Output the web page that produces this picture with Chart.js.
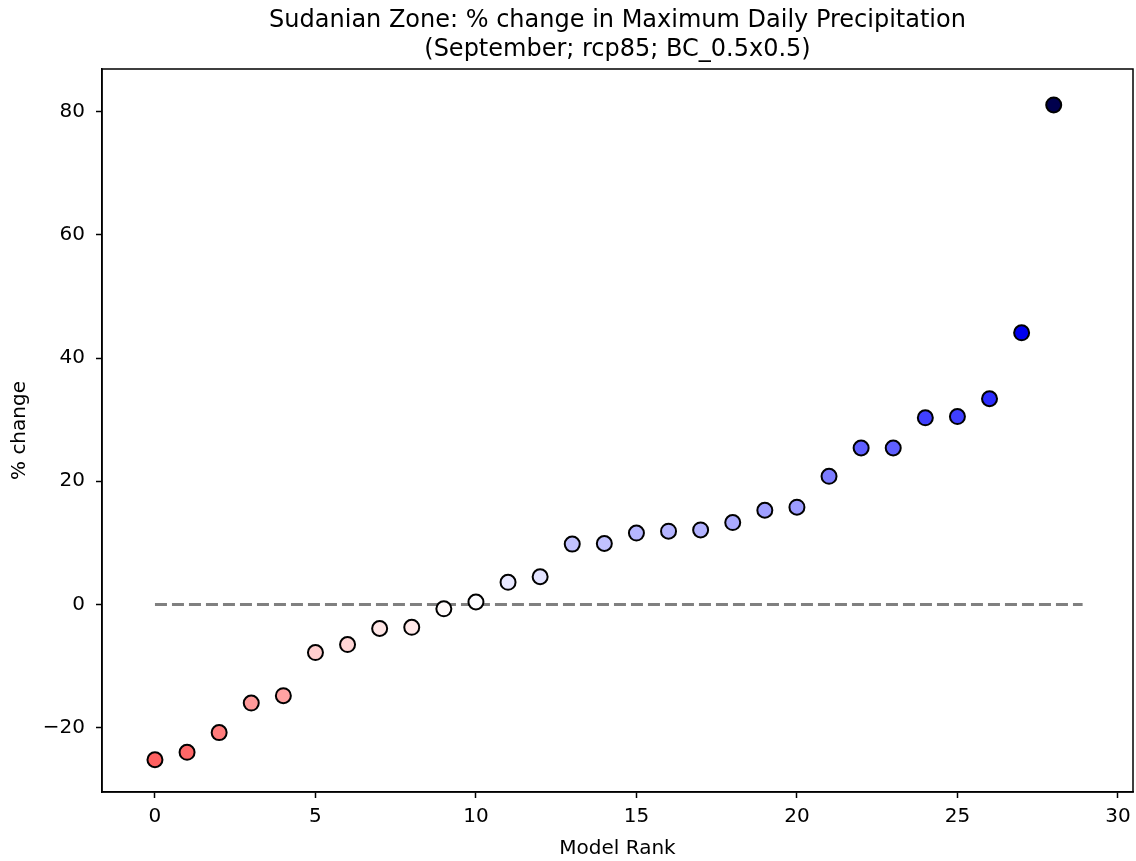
<!DOCTYPE html>
<html>
<head>
<meta charset="utf-8">
<script src="https://cdn.jsdelivr.net/npm/chart.js@4/dist/chart.umd.min.js"></script>
<style>
  body { margin: 0; background: #fff; }
</style>
</head>
<body>
<canvas id="chart" width="1136" height="861"></canvas>
<script>
'use strict';

// model rank (x) and % change (y)
const modelRank = [0, 1, 2, 3, 4, 5, 6, 7, 8, 9, 10, 11, 12, 13, 14, 15, 16, 17, 18, 19, 20, 21, 22, 23, 24, 25, 26, 27, 28];
const pctChange = [-25.2, -24.0, -20.8, -16.0, -14.8, -7.8, -6.5, -3.9, -3.7, -0.7, 0.4, 3.6, 4.5,
  9.8, 9.9, 11.6, 11.9, 12.1, 13.3, 15.3, 15.8, 20.8, 25.4, 25.4, 30.3, 30.5, 33.4, 44.1, 81.1];
const zeroLineX = [0, 28.9];
const titleLines = ['Sudanian Zone: % change in Maximum Daily Precipitation', '(September; rcp85; BC_0.5x0.5)'];

// seismic_r colour map, centred on 0
function seismicR(v, vmax) {
  let t = 0.5 - v / (2 * vmax); // seismic position
  t = Math.max(0, Math.min(1, t));
  let r, g, b;
  if (t < 0.25) { const s = t / 0.25; r = 0; g = 0; b = 0.3 + 0.7 * s; }
  else if (t < 0.5) { const s = (t - 0.25) / 0.25; r = s; g = s; b = 1; }
  else if (t < 0.75) { const s = (t - 0.5) / 0.25; r = 1; g = 1 - s; b = 1 - s; }
  else { const s = (t - 0.75) / 0.25; r = 1 - 0.5 * s; g = 0; b = 0; }
  return 'rgb(' + Math.round(r * 255) + ',' + Math.round(g * 255) + ',' + Math.round(b * 255) + ')';
}

const vmax = Math.max(...pctChange.map(Math.abs));
const pointColors = pctChange.map(v => seismicR(v, vmax));

const points = modelRank.map((r, i) => ({ x: r, y: pctChange[i] }));

const framePlugin = {
  id: 'frame',
  afterDraw(chart) {
    const { ctx, chartArea: a } = chart;
    ctx.save();
    ctx.strokeStyle = '#000';
    ctx.lineWidth = 1.5;
    ctx.strokeRect(a.left, a.top, a.right - a.left, a.bottom - a.top);
    ctx.restore();
  }
};

const font = { family: 'DejaVu Sans', size: 20 };

const config = {
  type: 'scatter',
  data: {
    datasets: [
      {
        type: 'line',
        data: zeroLineX.map(x => ({ x: x, y: 0 })),
        borderColor: 'rgb(128,128,128)',
        borderWidth: 3,
        borderDash: [12, 5],
        pointRadius: 0,
        fill: false,
        order: 2
      },
      {
        data: points,
        backgroundColor: pointColors,
        borderColor: '#000',
        borderWidth: 2,
        pointRadius: 7.5,
        pointHoverRadius: 7.5,
        order: 1
      }
    ]
  },
  options: {
    responsive: false,
    animation: false,
    devicePixelRatio: 1,
    layout: { autoPadding: false, padding: { left: 0, right: 3, top: 0, bottom: 0 } },
    plugins: {
      legend: { display: false },
      tooltip: { enabled: false },
      title: {
        display: true,
        fullSize: false,
        text: titleLines,
        color: '#000',
        font: { family: 'DejaVu Sans', size: 24, weight: 'normal', lineHeight: 1.2 },
        padding: { top: 6.5, bottom: 4.9 }
      }
    },
    scales: {
      x: {
        type: 'linear',
        min: -1.65,
        max: 30.47,
        afterFit(scale) { scale.height = 69; scale.paddingLeft = 0; scale.paddingRight = 0; },
        grid: { drawOnChartArea: false, drawTicks: true, tickLength: 6, color: '#000', tickWidth: 1.5 },
        border: { display: true, color: '#000', width: 1.5 },
        ticks: { stepSize: 5, includeBounds: false, color: '#000', font: font, padding: 7, maxRotation: 0 },
        title: { display: true, text: 'Model Rank', color: '#000', font: font, padding: { top: 0, bottom: 0 } }
      },
      y: {
        type: 'linear',
        min: -30.44,
        max: 86.93,
        afterFit(scale) { scale.width = 102; scale.paddingTop = 0; scale.paddingBottom = 0; },
        grid: { drawOnChartArea: false, drawTicks: true, tickLength: 6, color: '#000', tickWidth: 1.5 },
        border: { display: true, color: '#000', width: 1.5 },
        ticks: {
          stepSize: 20, includeBounds: false, color: '#000', font: font, padding: 11,
          callback: v => (v < 0 ? '\u2212' + Math.abs(v) : String(v))
        },
        title: { display: true, text: '% change', color: '#000', font: font, padding: { top: 8, bottom: 0 } }
      }
    }
  },
  plugins: [framePlugin]
};

new Chart(document.getElementById('chart'), config);
</script>
</body>
</html>
